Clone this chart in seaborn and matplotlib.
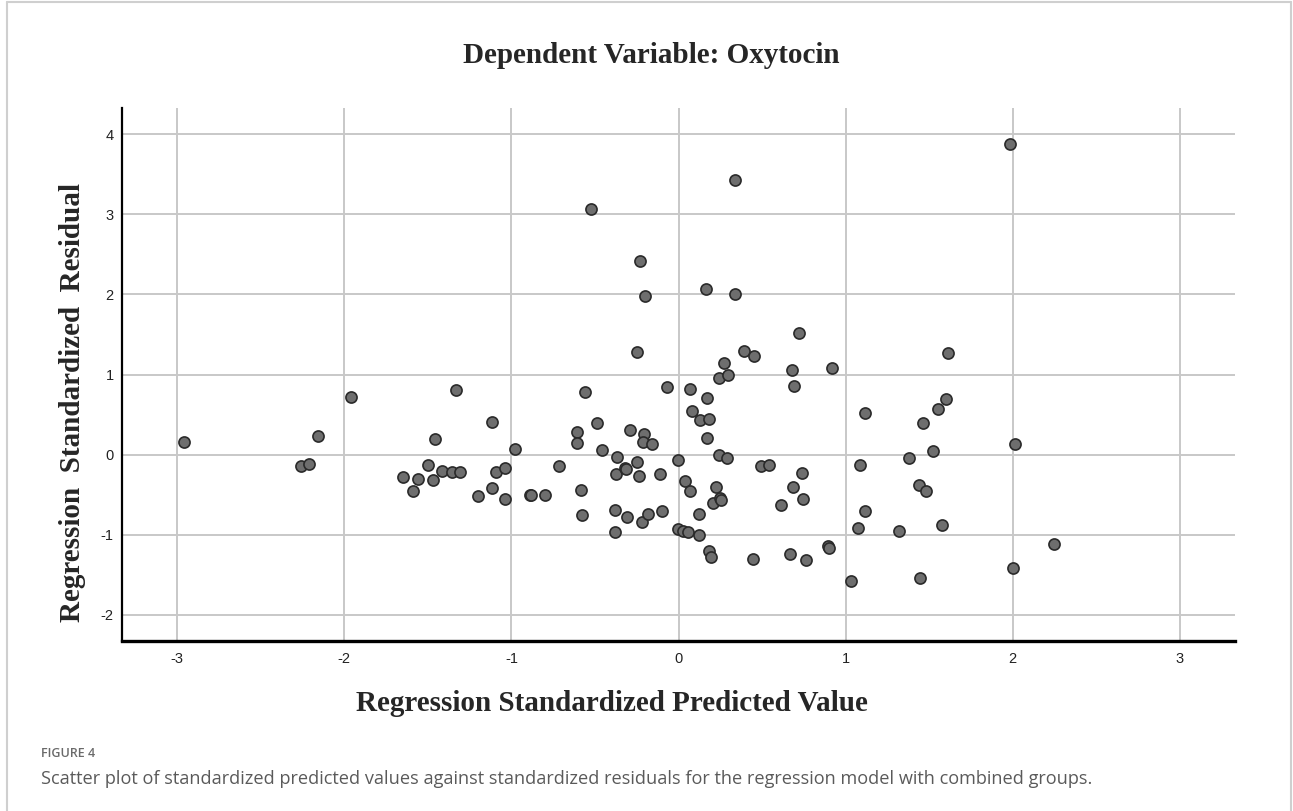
import pandas as pd
import matplotlib.pyplot as plt
import seaborn as sns

# Standardized predicted values (x) and standardized residuals (y)
pred = [-2.96, -2.26, -2.21, -2.16, -1.96, -1.647, -1.557, -1.587,
        -0.523, -0.23, -0.20, -0.248, -1.333, -0.561, -1.118, -0.489,
        -1.455, -0.607, -0.609, -0.289, -0.204, -0.214, -0.976, -0.459,
        -1.501, -1.471, -1.413, -1.355, -1.307, -1.20, -1.118, -1.092,
        -1.04, -1.036, -0.886, -0.882, -0.796, -0.715, -0.581, -0.577,
        -0.369, -0.373, -0.321, -0.314, -0.25, -0.238, -0.381, -0.307,
        -0.383, -0.218, -0.184,
        0.339, 0.166, 0.339, 0.723, 0.393, 0.453, 0.271, 0.244,
        0.299, 0.679, 0.918, 0.693, -0.066, 0.068, 0.172, 0.078,
        0.126, 0.18, 0.17, -0.16, 0.24, 0.293, -0.002, -0.108,
        0.04, 0.07, 0.224, 0.204, 0.251, 0.255, 0.495, 0.543,
        0.737, 0.683, 0.743, 0.611, 0.12, -0.1, -0.002, 0.024,
        0.054, 0.124, 0.18, 0.192, 0.443, 0.667, 0.762, 0.892, 0.898,
        1.982, 1.61, 1.602, 1.554, 1.462, 1.118, 2.012, 1.526,
        1.382, 1.086, 1.442, 1.482, 1.116, 1.074, 1.322, 1.576,
        1.032, 1.446, 2.004, 2.249]

resid = [0.155, -0.147, -0.116, 0.23, 0.72, -0.28, -0.30, -0.46,
         3.07, 2.42, 1.98, 1.28, 0.81, 0.78, 0.41, 0.40,
         0.19, 0.28, 0.14, 0.31, 0.26, 0.155, 0.065, 0.056,
         -0.125, -0.32, -0.20, -0.215, -0.215, -0.52, -0.42, -0.22,
         -0.56, -0.17, -0.50, -0.505, -0.50, -0.14, -0.44, -0.75,
         -0.03, -0.246, -0.17, -0.18, -0.095, -0.27, -0.69, -0.78,
         -0.966, -0.84, -0.74,
         3.435, 2.07, 2.00, 1.52, 1.29, 1.23, 1.15, 0.96,
         0.99, 1.06, 1.086, 0.86, 0.85, 0.82, 0.707, 0.55,
         0.43, 0.45, 0.21, 0.134, 0.0, -0.043, -0.073, -0.246,
         -0.33, -0.46, -0.40, -0.60, -0.54, -0.57, -0.14, -0.134,
         -0.23, -0.41, -0.55, -0.63, -0.74, -0.70, -0.935, -0.957,
         -0.966, -1.004, -1.20, -1.28, -1.31, -1.246, -1.32, -1.138, -1.168,
         3.88, 1.27, 0.70, 0.565, 0.39, 0.52, 0.134, 0.047,
         -0.04, -0.13, -0.38, -0.45, -0.70, -0.914, -0.96, -0.875,
         -1.58, -1.547, -1.42, -1.12]

x_ticks = [-3, -2, -1, 0, 1, 2, 3]
y_ticks = [-2, -1, 0, 1, 2, 3, 4]

df = pd.DataFrame({'pred': pred, 'resid': resid})

sns.set_style('white')
plt.rcParams['font.family'] = ['Liberation Sans', 'DejaVu Sans']

fig = plt.figure(figsize=(12.93, 8.11), dpi=100)
ax = fig.add_axes([0.0944, 0.2096, 0.8607, 0.6572])

# grid first so the points sit on top
ax.set_axisbelow(True)
ax.grid(True, color='#c8c8c8', linewidth=1.4)

sns.scatterplot(data=df, x='pred', y='resid', ax=ax, s=64,
                color='#6e6e6e', edgecolor='#2a2a2a', linewidth=1.2, zorder=3)

ax.set_xlim(-3.33, 3.33)
ax.set_ylim(-2.33, 4.33)
ax.set_xticks(x_ticks)
ax.set_yticks(y_ticks)
ax.set_xticklabels([str(t) for t in x_ticks])
ax.set_yticklabels([str(t) for t in y_ticks])
ax.tick_params(axis='both', length=0, labelsize=10.5, colors='#222222')
ax.tick_params(axis='x', pad=8)
ax.tick_params(axis='y', pad=6)
ax.set_xlabel('')
ax.set_ylabel('')

for side in ['top', 'right']:
    ax.spines[side].set_visible(False)
ax.spines['left'].set_linewidth(1.6)
ax.spines['bottom'].set_linewidth(2.4)
ax.spines['left'].set_color('black')
ax.spines['bottom'].set_color('black')

# titles in a bold serif like the SPSS output
serif = ['Liberation Serif', 'DejaVu Serif']
fig.text(0.504, 0.932, 'Dependent Variable: Oxytocin', ha='center', va='center',
         fontsize=21, fontweight='bold', family=serif)
fig.text(0.473, 0.133, 'Regression Standardized Predicted Value', ha='center', va='center',
         fontsize=21, fontweight='bold', family=serif)
fig.text(0.056, 0.504, 'Regression  Standardized  Residual', ha='center', va='center',
         rotation=90, fontsize=21, fontweight='bold', family=serif)

# figure caption
fig.text(0.032, 0.0715, 'FIGURE 4', ha='left', va='center', fontsize=9,
         fontweight='semibold', color='#6a6a6a', family=['Open Sans', 'DejaVu Sans'])
fig.text(0.032, 0.039, 'Scatter plot of standardized predicted values against standardized residuals '
         'for the regression model with combined groups.', ha='left', va='center',
         fontsize=13.1, color='#5a5a5a', family=['Open Sans', 'DejaVu Sans'])

# light frame around the figure panel (open at the bottom)
frame = dict(color='#cfcfcf', linewidth=1.5, transform=fig.transFigure)
fig.add_artist(plt.Line2D([0.0054, 0.0054], [0, 0.9975], **frame))
fig.add_artist(plt.Line2D([0.0054, 0.9985], [0.9975, 0.9975], **frame))
fig.add_artist(plt.Line2D([0.9985, 0.9985], [0, 0.9975], **frame))

fig.savefig('out.png', dpi=100)
